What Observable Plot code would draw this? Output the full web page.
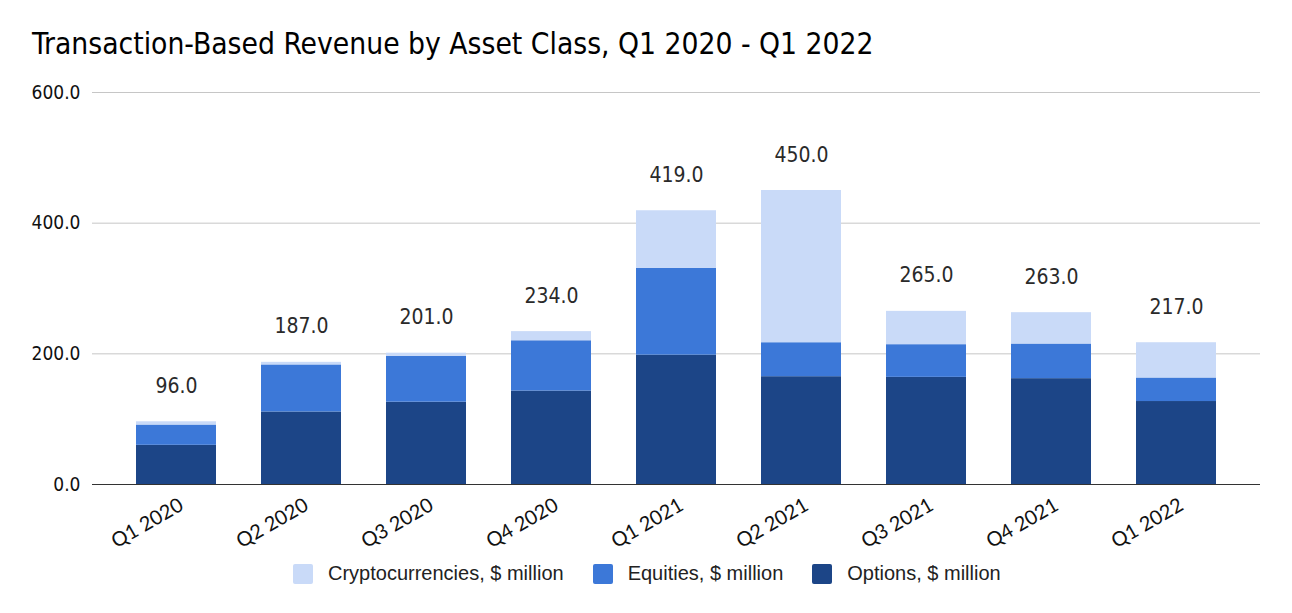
<!DOCTYPE html>
<html><head><meta charset="utf-8">
<script src="https://cdn.jsdelivr.net/npm/d3@7"></script>
<script src="https://cdn.jsdelivr.net/npm/@observablehq/plot@0.6"></script>
<style>
body{margin:0;background:#fff;width:1292px;height:613px;position:relative;overflow:hidden;}
#title{position:absolute;left:32px;top:27px;font-family:"DejaVu Sans Condensed","DejaVu Sans",sans-serif;font-size:29.7px;line-height:34px;color:#000;white-space:nowrap;}
#chart{position:absolute;left:0;top:70px;}
#chart g[aria-label="y-axis tick label"]{font-family:"DejaVu Sans Condensed","DejaVu Sans",sans-serif;font-size:19px;fill:#111;}
#chart g[aria-label="x-axis tick label"] text{font-family:Lato,"Liberation Sans",sans-serif;font-size:20px;fill:#111;}
#legend{position:absolute;left:293px;top:562px;display:flex;align-items:center;font-family:"Liberation Sans",Arial,sans-serif;font-size:20px;color:#222;}
#legend .item{display:flex;align-items:center;margin-right:29px;}
#legend .sw{width:20px;height:20px;border-radius:2px;margin-right:15px;}
</style>
</head><body>
<div id="title">Transaction-Based Revenue by Asset Class, Q1 2020 - Q1 2022</div>
<div id="chart"></div>
<div id="legend"></div>
<script>
const quarters = ["Q1 2020","Q2 2020","Q3 2020","Q4 2020","Q1 2021","Q2 2021","Q3 2021","Q4 2021","Q1 2022"];
const options  = [60, 111, 126, 143, 198, 165, 164, 162, 127];
const equities = [31,  72,  70,  77, 133,  52,  50,  53,  36];
const crypto   = [ 5,   4,   5,  14,  88, 233,  51,  48,  54];
const totals   = [96, 187, 201, 234, 419, 450, 265, 263, 217];
const seriesNames = ["Options, $ million", "Equities, $ million", "Cryptocurrencies, $ million"];
const seriesColors = ["#1c4587", "#3c78d8", "#c9daf8"];
const legendOrder = ["Cryptocurrencies, $ million", "Equities, $ million", "Options, $ million"];
const yTicks = [0, 200, 400, 600];

const seriesValues = [options, equities, crypto];
const rows = quarters.flatMap((q, i) => seriesNames.map((s, j) => ({q, s, v: seriesValues[j][i]})));
const totalRows = quarters.map((q, i) => ({q, t: totals[i]}));
const fmt = d3.format(".1f");

const chart = Plot.plot({
  width: 1292, height: 484,
  marginTop: 22, marginBottom: 70, marginLeft: 92, marginRight: 32,
  style: {background: "#fff", overflow: "visible"},
  x: {domain: quarters, paddingInner: 0.36, paddingOuter: 0.34, label: null, axis: null},
  y: {domain: [0, 600], label: null, axis: null},
  color: {domain: seriesNames, range: seriesColors},
  marks: [
    Plot.ruleY(yTicks.filter(d => d > 0), {stroke: "#c6c6c6", strokeWidth: 1}),
    Plot.axisY({ticks: yTicks, tickFormat: fmt, label: null, tickSize: 0, tickPadding: 12}),
    Plot.axisX({label: null, tickSize: 0, tickRotate: -30, tickPadding: 19, dx: 5}),
    Plot.barY(rows, Plot.stackY({x: "q", y: "v", fill: "s", order: seriesNames})),
    Plot.ruleY([0], {stroke: "#333", strokeWidth: 1.2}),
    Plot.text(totalRows, {x: "q", y: "t", text: d => fmt(d.t), dy: -29, lineAnchor: "bottom",
      fontSize: 21, fill: "#2a2a2a", fontFamily: "'DejaVu Sans Condensed','DejaVu Sans',sans-serif"})
  ]
});
document.getElementById("chart").append(chart);

const legend = document.getElementById("legend");
legendOrder.forEach(name => {
  const item = document.createElement("div");
  item.className = "item";
  const sw = document.createElement("div");
  sw.className = "sw";
  sw.style.background = seriesColors[seriesNames.indexOf(name)];
  const label = document.createElement("span");
  label.textContent = name;
  item.append(sw, label);
  legend.append(item);
});
</script>
</body></html>
